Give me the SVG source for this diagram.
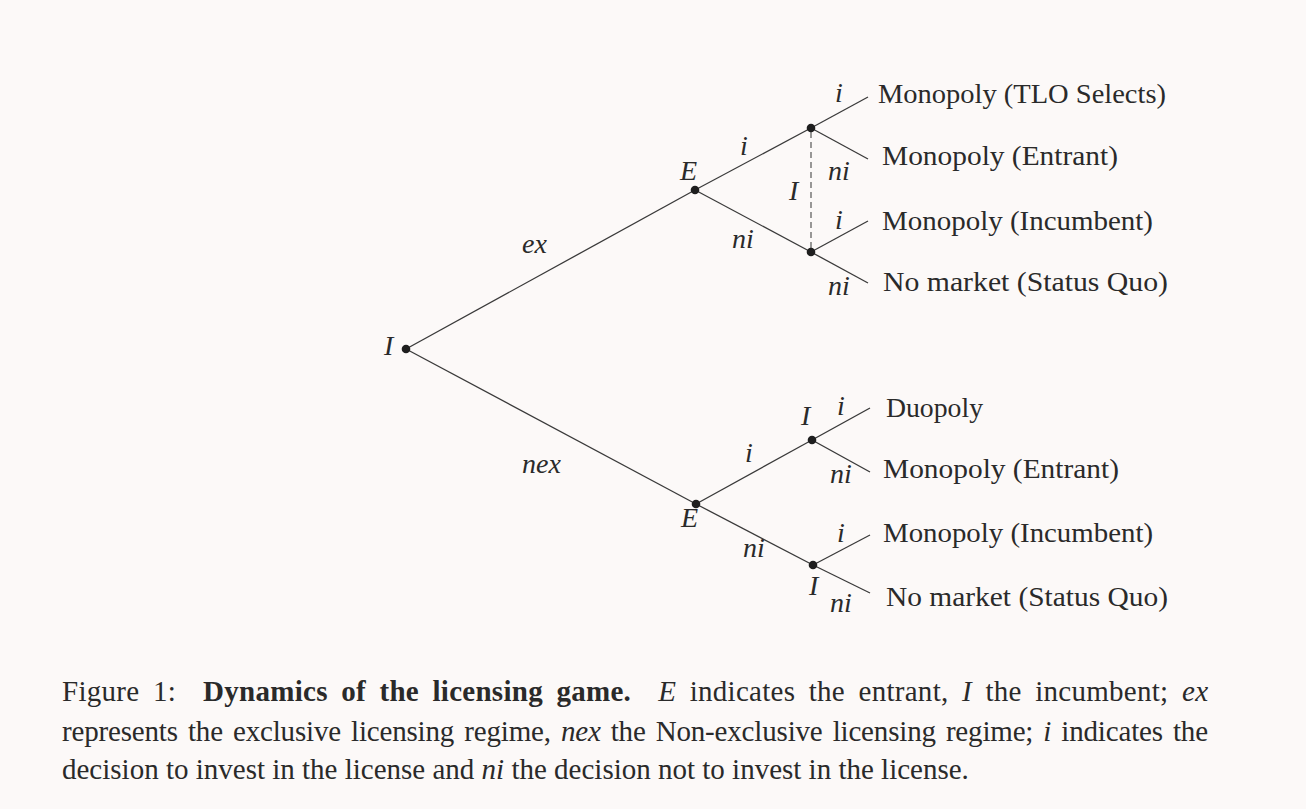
<svg xmlns="http://www.w3.org/2000/svg" width="1306" height="809" viewBox="0 0 1306 809">
<style>
.edge{stroke:#3a3a3a;stroke-width:1.3;fill:none}
.dash{stroke:#555;stroke-width:1.2;stroke-dasharray:6 4;fill:none}
.dot{fill:#1e1e1e}
.m{font-family:"Liberation Serif","Times New Roman",serif;font-style:italic;font-size:28px;fill:#2a2a2a}
.leaf{font-family:"Liberation Serif","Times New Roman",serif;font-size:28px;fill:#2a2a2a}
.cap{font-family:"Liberation Serif","Times New Roman",serif;font-size:29px;fill:#2a2a2a;white-space:pre}
.b{font-weight:bold}
.it{font-style:italic}
</style>
<rect width="1306" height="809" fill="#fcf9f8"/>
<g id="connectors">
<line class="edge" x1="406" y1="349" x2="695" y2="190"/>
<line class="edge" x1="406" y1="349" x2="696" y2="504"/>
<line class="edge" x1="695" y1="190" x2="811" y2="128"/>
<line class="edge" x1="695" y1="190" x2="811" y2="252"/>
<line class="edge" x1="811" y1="128" x2="868" y2="97"/>
<line class="edge" x1="811" y1="128" x2="868" y2="159"/>
<line class="edge" x1="811" y1="252" x2="868" y2="221"/>
<line class="edge" x1="811" y1="252" x2="868" y2="283"/>
<line class="dash" x1="811" y1="132" x2="811" y2="248"/>
<line class="edge" x1="696" y1="504" x2="812" y2="440"/>
<line class="edge" x1="696" y1="504" x2="813" y2="565"/>
<line class="edge" x1="812" y1="440" x2="870" y2="408"/>
<line class="edge" x1="812" y1="440" x2="870" y2="472"/>
<line class="edge" x1="813" y1="565" x2="870" y2="535"/>
<line class="edge" x1="813" y1="565" x2="870" y2="593"/>
</g>
<g id="edge-labels">
<text class="m" x="522" y="253">ex</text>
<text class="m" x="522" y="473">nex</text>
<text class="m" x="740" y="155">i</text>
<text class="m" x="732" y="248">ni</text>
<text class="m" x="835" y="102">i</text>
<text class="m" x="828" y="180">ni</text>
<text class="m" x="835" y="229">i</text>
<text class="m" x="828" y="295">ni</text>
<text class="m" x="745" y="462">i</text>
<text class="m" x="743" y="557">ni</text>
<text class="m" x="837" y="415">i</text>
<text class="m" x="830" y="483">ni</text>
<text class="m" x="837" y="542">i</text>
<text class="m" x="830" y="612">ni</text>
</g>
<g id="node-root">
<circle class="dot" cx="406" cy="349" r="4.3"/>
<text class="m" x="384" y="355">I</text>
</g>
<g id="node-E-ex">
<circle class="dot" cx="695" cy="190" r="4.3"/>
<text class="m" x="680" y="180">E</text>
</g>
<g id="node-I-ex">
<circle class="dot" cx="811" cy="128" r="4.3"/>
<circle class="dot" cx="811" cy="252" r="4.3"/>
<text class="m" x="789" y="200">I</text>
</g>
<g id="node-E-nex">
<circle class="dot" cx="696" cy="504" r="4.3"/>
<text class="m" x="681" y="527">E</text>
</g>
<g id="node-I-nex-i">
<circle class="dot" cx="812" cy="440" r="4.3"/>
<text class="m" x="801" y="425">I</text>
</g>
<g id="node-I-nex-ni">
<circle class="dot" cx="813" cy="565" r="4.3"/>
<text class="m" x="809" y="595">I</text>
</g>
<g id="leaves">
<text class="leaf" x="878" y="103" textLength="288" lengthAdjust="spacingAndGlyphs">Monopoly (TLO Selects)</text>
<text class="leaf" x="882" y="165" textLength="236" lengthAdjust="spacingAndGlyphs">Monopoly (Entrant)</text>
<text class="leaf" x="882" y="230" textLength="271" lengthAdjust="spacingAndGlyphs">Monopoly (Incumbent)</text>
<text class="leaf" x="883" y="291" textLength="285" lengthAdjust="spacingAndGlyphs">No market (Status Quo)</text>
<text class="leaf" x="886" y="417" textLength="97" lengthAdjust="spacingAndGlyphs">Duopoly</text>
<text class="leaf" x="883" y="478" textLength="236" lengthAdjust="spacingAndGlyphs">Monopoly (Entrant)</text>
<text class="leaf" x="883" y="542" textLength="270" lengthAdjust="spacingAndGlyphs">Monopoly (Incumbent)</text>
<text class="leaf" x="886" y="606" textLength="282" lengthAdjust="spacingAndGlyphs">No market (Status Quo)</text>
</g>
<g id="caption">
<text class="cap" x="62" y="701" word-spacing="6" textLength="1146" lengthAdjust="spacing">Figure 1:  <tspan class="b">Dynamics of the licensing game.</tspan>  <tspan class="it">E</tspan> indicates the entrant, <tspan class="it">I</tspan> the incumbent; <tspan class="it">ex</tspan></text>
<text class="cap" x="62" y="741" word-spacing="3" textLength="1146" lengthAdjust="spacing">represents the exclusive licensing regime, <tspan class="it">nex</tspan> the Non-exclusive licensing regime; <tspan class="it">i</tspan> indicates the</text>
<text class="cap" x="62" y="779">decision to invest in the license and <tspan class="it">ni</tspan> the decision not to invest in the license.</text>
</g>
</svg>
